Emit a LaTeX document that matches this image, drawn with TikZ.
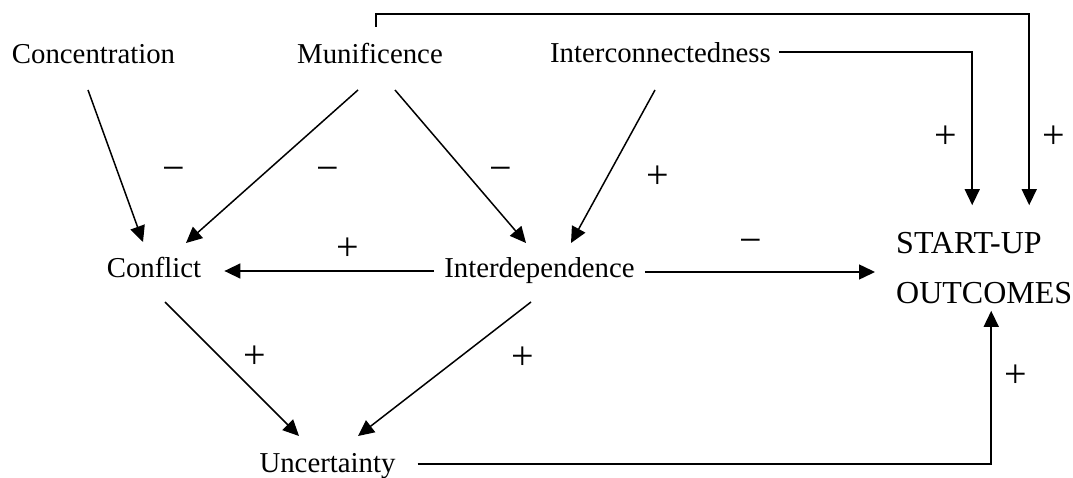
\documentclass[tikz,border=0pt]{standalone}
\usepackage{fontspec}
\setmainfont{Liberation Serif}
\usetikzlibrary{arrows.meta}
\tikzset{
  ar/.style={-{Triangle[length=16pt,width=15pt]},line width=1.5pt},
  var/.style={font=\fontsize{28.8}{34}\selectfont,inner sep=0pt,anchor=base},
  sgn/.style={font=\fontsize{40}{46}\selectfont,inner sep=0pt}
}

\begin{document}
\begin{tikzpicture}[x=1pt,y=-1pt]
\useasboundingbox (0,0) rectangle (1073,478);
% variables
\node[var] (conc) at (93.5,64) {Concentration};
\node[var] (munif) at (370,64) {Munificence};
\node[var] (icon) at (660.5,63) {Interconnectedness};
\node[var] (confl) at (154,278) {Conflict};
\node[var] (idep) at (539.5,278) {Interdependence};
\node[var] (unc) at (327.5,472) {Uncertainty};
\node[var,font=\fontsize{32}{50}\selectfont,align=left,anchor=west] (out) at (896,268.4) {START-UP\\OUTCOMES};
% links
\draw[ar] ([shift={(-5.5,26)}]conc.base) -- ([shift={(-11,-36)}]confl.base);
\draw[ar] ([shift={(-12,26)}]munif.base) -- ([shift={(32,-35)}]confl.base);
\draw[ar] ([shift={(25,26)}]munif.base) -- ([shift={(-13.5,-35)}]idep.base);
\draw[ar] ([shift={(-5.5,27)}]icon.base) -- ([shift={(31.5,-35)}]idep.base);
\draw[ar] ([shift={(-10,-7)}]idep.base west) -- ([shift={(23,-7)}]confl.base east);
\draw[ar,shorten >=21pt] ([shift={(10,-6)}]idep.base east) coordinate (io) -- (io -| out.west);
\draw[ar] ([shift={(11,24)}]confl.base) -- ([shift={(-28.5,-36)}]unc.base);
\draw[ar] ([shift={(-8.5,24)}]idep.base) -- ([shift={(30.5,-36)}]unc.base);
\draw[ar] ([shift={(22,-8)}]unc.base east) -| ([shift={(7,6.5)}]out.south);
\draw[ar] ([shift={(8,-11)}]icon.base east) -| ([shift={(-12,-27.3)}]out.north);
\draw[ar] ([shift={(6,-37)}]munif.base) -- ++(0,-13) -| ([shift={(45,-27.3)}]out.north);
% signs
\node[sgn] (s1) at (174,174) {−};
\node[sgn] (s2) at (328,174) {−};
\node[sgn] (s3) at (501,174) {−};
\node[sgn] (s4) at (658,177) {+};
\node[sgn] (s5) at (946,137) {+};
\node[sgn] (s6) at (1054,137) {+};
\node[sgn] (s7) at (348,249) {+};
\node[sgn] (s8) at (751,246) {−};
\node[sgn] (s9) at (255,357) {+};
\node[sgn] (s10) at (523,358) {+};
\node[sgn] (s11) at (1016,376) {+};
\end{tikzpicture}
\end{document}
